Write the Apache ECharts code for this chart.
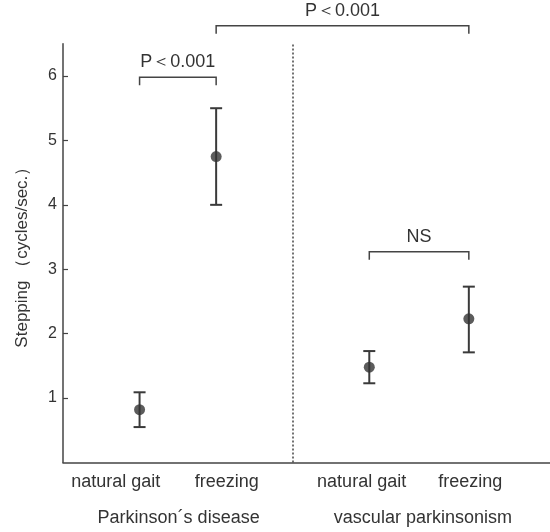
<!DOCTYPE html>
<html>
<head>
<meta charset="utf-8">
<script src="https://cdn.jsdelivr.net/npm/echarts@6/dist/echarts.min.js"></script>
<style>
  html, body { margin: 0; padding: 0; background: #ffffff; }
  #chart { width: 550px; height: 532px; }
</style>
</head>
<body>
<div id="chart"></div>
<script>
// ---- data ----
const categories = ['natural gait', 'freezing', 'natural gait', 'freezing'];
const groups = ['Parkinson\u00b4s disease', 'vascular parkinsonism'];
const means = [0.82, 4.75, 1.48, 2.23];
const upper = [1.09, 5.50, 1.73, 2.73];
const lower = [0.55, 4.00, 1.23, 1.71];
const yTicks = [1, 2, 3, 4, 5, 6];
const compareLabels = ['P\uff1c0.001', 'P\uff1c0.001', 'NS'];
const comparePairs = [[0, 1], [1, 3], [2, 3]];
const compareLevels = [5.98, 6.78, 3.27];

// ---- layout (not data) ----
const layout = {
  xPos: [1, 2, 4, 5.3],
  divider: 3,
  catLabelPos: [0.69, 2.14, 3.90, 5.32],
  groupLabelPos: [1.51, 4.70],
  xMax: 6.36,
  yMax: 6.5
};
const ink = '#333333';
const font = '"Liberation Sans", Arial, sans-serif';

const chart = echarts.init(document.getElementById('chart'));

const pointData = means.map((m, i) => [layout.xPos[i], m]);
const errData = means.map((m, i) => [layout.xPos[i], lower[i], upper[i]]);
const bracketData = comparePairs.map((p, i) => [layout.xPos[p[0]], layout.xPos[p[1]], compareLevels[i], i]);

const option = {
  backgroundColor: '#ffffff',
  animation: false,
  grid: { left: 63, right: 0, top: 43.8, bottom: 69.5 },
  xAxis: {
    type: 'value', min: 0, max: layout.xMax,
    axisLine: { show: true, onZero: false, lineStyle: { color: '#444', width: 1.5 } },
    axisTick: { show: false }, axisLabel: { show: false }, splitLine: { show: false }
  },
  yAxis: {
    type: 'value', min: 0, max: layout.yMax, interval: 1,
    name: 'Stepping \uff08cycles/sec.\uff09',
    nameLocation: 'middle', nameGap: 32,
    nameTextStyle: { color: ink, fontSize: 17, fontFamily: font },
    axisLine: { show: true, lineStyle: { color: '#444', width: 1.5 } },
    axisTick: { show: true, inside: true, length: 5, customValues: yTicks, lineStyle: { color: '#444', width: 1.2 } },
    axisLabel: { color: ink, fontSize: 16, fontFamily: font, margin: 6, customValues: yTicks },
    splitLine: { show: false }
  },
  series: [
    {
      type: 'custom',
      name: 'error',
      data: errData,
      clip: false,
      renderItem: function (params, api) {
        const x = api.value(0);
        const lo = api.coord([x, api.value(1)]);
        const hi = api.coord([x, api.value(2)]);
        const cap = 6;
        const st = { stroke: '#3a3a3a', lineWidth: 2 };
        return {
          type: 'group',
          children: [
            { type: 'line', shape: { x1: lo[0], y1: lo[1], x2: hi[0], y2: hi[1] }, style: st },
            { type: 'line', shape: { x1: lo[0] - cap, y1: lo[1], x2: lo[0] + cap, y2: lo[1] }, style: st },
            { type: 'line', shape: { x1: hi[0] - cap, y1: hi[1], x2: hi[0] + cap, y2: hi[1] }, style: st }
          ]
        };
      },
      markLine: {
        silent: true, symbol: ['none', 'none'],
        label: { show: false },
        lineStyle: { type: [2, 2], color: '#444', width: 1.5 },
        data: [{ xAxis: layout.divider }]
      },
      z: 2
    },
    {
      type: 'scatter',
      name: 'mean',
      data: pointData,
      symbol: 'circle',
      symbolSize: 11,
      itemStyle: { color: '#333333' },
      z: 3
    },
    {
      type: 'custom',
      name: 'brackets',
      data: bracketData,
      clip: false,
      renderItem: function (params, api) {
        const a = api.coord([api.value(0), api.value(2)]);
        const b = api.coord([api.value(1), api.value(2)]);
        const leg = 8;
        const st = { stroke: '#444', lineWidth: 1.5, fill: null };
        const idx = api.value(3);
        return {
          type: 'group',
          children: [
            { type: 'polyline', shape: { points: [[a[0], a[1] + leg], [a[0], a[1]], [b[0], b[1]], [b[0], b[1] + leg]] }, style: st },
            { type: 'text', x: (a[0] + b[0]) / 2, y: a[1] - 6,
              style: { text: compareLabels[idx], fill: ink, font: '18px ' + font, textAlign: 'center', textVerticalAlign: 'bottom' } }
          ]
        };
      },
      z: 3
    }
  ]
};
chart.setOption(option);

// axis labels below the baseline
const gfx = [];
categories.forEach((c, i) => {
  const px = chart.convertToPixel({ xAxisIndex: 0 }, layout.catLabelPos[i]);
  gfx.push({ type: 'text', x: px, y: 482, style: { text: c, fill: ink, font: '18px ' + font, textAlign: 'center', textVerticalAlign: 'middle' } });
});
groups.forEach((g, i) => {
  const px = chart.convertToPixel({ xAxisIndex: 0 }, layout.groupLabelPos[i]);
  gfx.push({ type: 'text', x: px, y: 518, style: { text: g, fill: ink, font: '18px ' + font, textAlign: 'center', textVerticalAlign: 'middle' } });
});
chart.setOption({ graphic: gfx });
</script>
</body>
</html>
